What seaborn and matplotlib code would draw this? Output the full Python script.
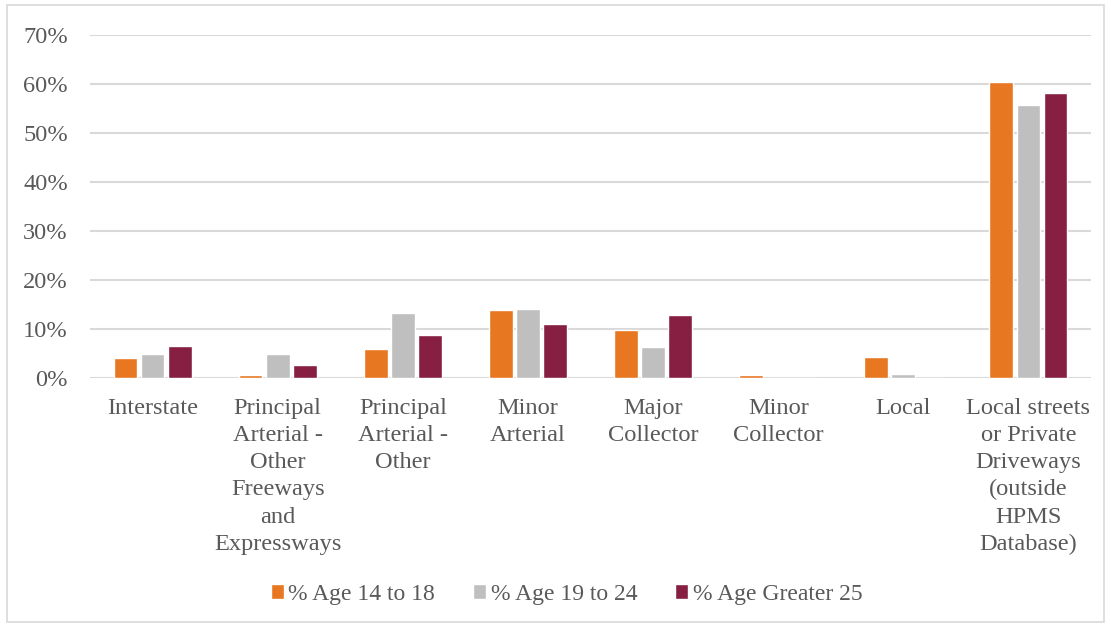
import matplotlib
matplotlib.use("Agg")
import matplotlib.pyplot as plt
import seaborn as sns
import pandas as pd
from matplotlib.patches import Rectangle
from matplotlib.ticker import PercentFormatter

categories = [
    "Interstate",
    "Principal\nArterial -\nOther\nFreeways\nand\nExpressways",
    "Principal\nArterial -\nOther",
    "Minor\nArterial",
    "Major\nCollector",
    "Minor\nCollector",
    "Local",
    "Local streets\nor Private\nDriveways\n(outside\nHPMS\nDatabase)",
]
series_names = ["% Age 14 to 18", "% Age 19 to 24", "% Age Greater 25"]
age_14_18 = [4.1, 0.6, 5.9, 14.0, 9.8, 0.6, 4.4, 60.4]
age_19_24 = [4.9, 4.9, 13.3, 14.2, 6.3, 0.0, 0.9, 55.7]
age_25_plus = [6.5, 2.7, 8.7, 11.0, 12.9, 0.0, 0.0, 58.2]
colors = ["#E87722", "#BFBFBF", "#861F41"]

rows = []
for name, vals in zip(series_names, [age_14_18, age_19_24, age_25_plus]):
    for c, v in zip(categories, vals):
        rows.append({"category": c, "series": name, "value": v})
df = pd.DataFrame(rows)

sns.set_theme(style="white")
plt.rcParams["font.family"] = ["Liberation Serif", "DejaVu Serif"]

FS = 17.6
fig = plt.figure(figsize=(11.11, 6.25), dpi=100)
ax = fig.add_axes([0.081, 0.395, 0.901, 0.549])

sns.barplot(data=df, x="category", y="value", hue="series",
            palette=colors, width=0.65, gap=0.12, ax=ax,
            order=categories, hue_order=series_names, saturation=1)

ax.set_ylim(0, 70)
ax.set_xlim(-0.5, len(categories) - 0.5)
ax.set_yticks(range(0, 71, 10))
ax.yaxis.set_major_formatter(PercentFormatter(decimals=0))
ax.grid(axis="y", color="#D9D9D9", linewidth=1.5)
ax.set_axisbelow(True)
for s in ax.spines.values():
    s.set_visible(False)
ax.set_xlabel("")
ax.set_ylabel("")
ax.tick_params(axis="y", length=0, pad=16, labelsize=FS, labelcolor="#595959")
ax.tick_params(axis="x", length=0, pad=14, labelsize=FS, labelcolor="#595959")
for lbl in ax.get_xticklabels():
    lbl.set_linespacing(1.39)
    lbl.set_verticalalignment("top")

handles, labels = ax.get_legend_handles_labels()
ax.legend_.remove()
fig.legend(handles, labels, loc="center", bbox_to_anchor=(0.51, 0.049),
           ncol=3, frameon=False, fontsize=17, labelcolor="#595959",
           handlelength=0.55, handleheight=0.55, handletextpad=0.2,
           columnspacing=1.6)

fig.patches.append(Rectangle((7 / 1111, 3 / 625), 1097 / 1111, 617 / 625,
                             transform=fig.transFigure, fill=False,
                             edgecolor="#D9D9D9", linewidth=1.2))

fig.savefig("out.png", dpi=100)
